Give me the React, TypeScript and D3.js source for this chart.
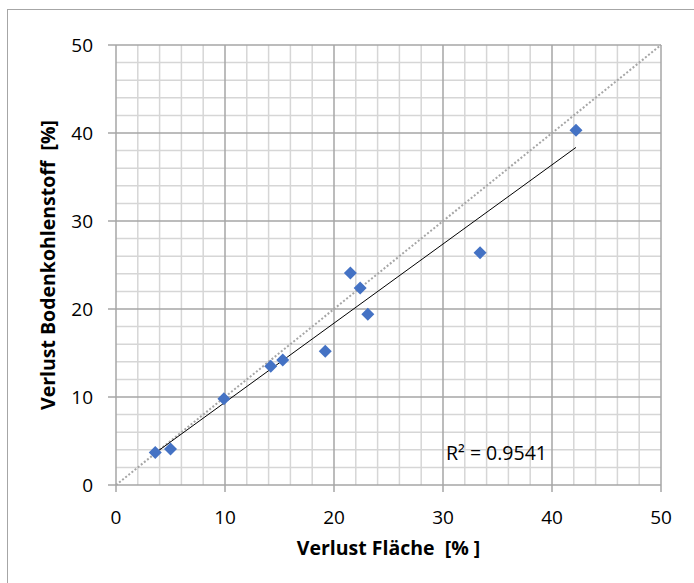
import React from "react";
import { scaleLinear, range, line } from "d3";

// Verlust Fläche [%] vs Verlust Bodenkohlenstoff [%]
const flaeche = [3.6, 5.0, 9.9, 14.2, 15.3, 19.2, 21.5, 22.4, 23.1, 33.4, 42.2];
const kohlenstoff = [3.7, 4.1, 9.8, 13.5, 14.2, 15.2, 24.1, 22.4, 19.4, 26.4, 40.3];
const majorTicks = [0, 10, 20, 30, 40, 50];
const rSquaredLabel = "R² = 0.9541";

const W = 694;
const H = 583;
const margin = { left: 116, right: 33, top: 45, bottom: 98 };
const font = "'Open Sans', 'Noto Sans', sans-serif";

function App() {
    const x = scaleLinear().domain([0, 50]).range([margin.left, W - margin.right]);
    const y = scaleLinear().domain([0, 50]).range([H - margin.bottom, margin.top]);

    const minor = range(0, 51, 2).filter(v => v % 10 !== 0);

    // linear regression for the trend line
    const n = flaeche.length;
    const mx = flaeche.reduce((a, b) => a + b, 0) / n;
    const my = kohlenstoff.reduce((a, b) => a + b, 0) / n;
    let sxy = 0, sxx = 0;
    flaeche.forEach((v, i) => {
        sxy += (v - mx) * (kohlenstoff[i] - my);
        sxx += (v - mx) * (v - mx);
    });
    const slope = sxy / sxx;
    const icpt = my - slope * mx;
    const xmin = Math.min(...flaeche), xmax = Math.max(...flaeche);

    const lineGen = line<[number, number]>().x(d => x(d[0])).y(d => y(d[1]));

    const dsize = 6.5;

    return (
        <svg width={W} height={H} style={{ position: "absolute", left: 0, top: 0, background: "#fff" }}>
            <rect x={7.5} y={9.5} width={W + 10} height={H + 10} fill="none" stroke="#a6a6a6" />

            {/* minor grid */}
            {minor.map(v => (
                <g key={"m" + v}>
                    <line x1={x(v)} x2={x(v)} y1={y(0)} y2={y(50)} stroke="#d6d6d6" strokeWidth={1.5} />
                    <line x1={x(0)} x2={x(50)} y1={y(v)} y2={y(v)} stroke="#d6d6d6" strokeWidth={1.5} />
                </g>
            ))}
            {/* major grid */}
            {majorTicks.map(v => (
                <g key={"M" + v}>
                    <line x1={x(v)} x2={x(v)} y1={y(0)} y2={y(50)} stroke="#a6a6a6" strokeWidth={1.5} />
                    <line x1={x(0)} x2={x(50)} y1={y(v)} y2={y(v)} stroke="#a6a6a6" strokeWidth={1.5} />
                    <line x1={x(0) - 8} x2={x(0)} y1={y(v)} y2={y(v)} stroke="#a6a6a6" strokeWidth={1.5} />
                    <line x1={x(v)} x2={x(v)} y1={y(0)} y2={y(0) + 7} stroke="#a6a6a6" strokeWidth={1.5} />
                    <text x={x(0) - 23} y={y(v)} dy="0.35em" textAnchor="end" fontFamily={font} fontSize={19} fill="#000">{v}</text>
                    <text x={x(v)} y={y(0) + 32} dy="0.35em" textAnchor="middle" fontFamily={font} fontSize={19} fill="#000">{v}</text>
                </g>
            ))}

            {/* 1:1 line */}
            <path d={lineGen([[0, 0], [50, 50]]) || ""} stroke="#a6a6a6" strokeWidth={2} strokeDasharray="2,2" fill="none" />

            {/* trend line */}
            <path d={lineGen([[xmin, icpt + slope * xmin], [xmax, icpt + slope * xmax]]) || ""} stroke="#000" strokeWidth={1} fill="none" />

            {/* points */}
            {flaeche.map((v, i) => {
                const cx = x(v), cy = y(kohlenstoff[i]);
                return (
                    <path key={i} d={`M${cx},${cy - dsize}L${cx + dsize},${cy}L${cx},${cy + dsize}L${cx - dsize},${cy}Z`} fill="#4472c4" />
                );
            })}

            <text x={446} y={460} fontFamily={font} fontSize={19.5} fill="#000">{rSquaredLabel}</text>

            <text x={(x(0) + x(50)) / 2} y={548} dy="0.35em" textAnchor="middle" fontFamily={font} fontSize={19.5} fontWeight="bold" fill="#000" style={{ whiteSpace: "pre" }}>
                {"Verlust Fläche  [% ]"}
            </text>
            <text transform={`translate(48,${(y(0) + y(50)) / 2}) rotate(-90)`} dy="0.35em" textAnchor="middle" fontFamily={font} fontSize={19.5} fontWeight="bold" fill="#000" style={{ whiteSpace: "pre" }}>
                {"Verlust Bodenkohlenstoff  [%]"}
            </text>
        </svg>
    );
}

export default App;
